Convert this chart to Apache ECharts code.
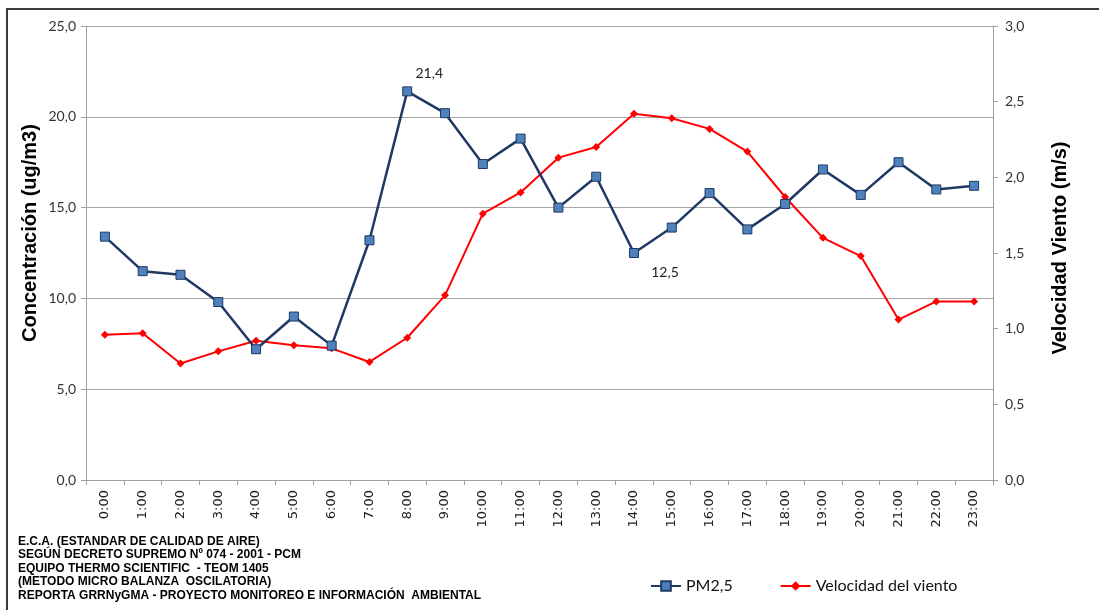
<!DOCTYPE html>
<html>
<head>
<meta charset="utf-8">
<script src="https://cdn.jsdelivr.net/npm/echarts@6/dist/echarts.min.js"></script>
<style>
html,body{margin:0;padding:0;background:#fff;}
#c{width:1099px;height:610px;}
</style>
</head>
<body>
<div id="c"></div>
<script>
const hours = ['0:00','1:00','2:00','3:00','4:00','5:00','6:00','7:00','8:00','9:00','10:00','11:00','12:00','13:00','14:00','15:00','16:00','17:00','18:00','19:00','20:00','21:00','22:00','23:00'];
const pm25 = [13.4,11.5,11.3,9.8,7.2,9.0,7.4,13.2,21.4,20.2,17.4,18.8,15.0,16.7,12.5,13.9,15.8,13.8,15.2,17.1,15.7,17.5,16.0,16.2];
const viento = [0.96,0.97,0.77,0.85,0.92,0.89,0.87,0.78,0.94,1.22,1.76,1.90,2.13,2.20,2.42,2.39,2.32,2.17,1.87,1.60,1.48,1.06,1.18,1.18];
const labeledPoints = [8, 14];
const leftTicks = {min:0, max:25, interval:5};
const rightTicks = {min:0, max:3, interval:0.5};
const leftTitle = 'Concentración (ug/m3)';
const rightTitle = 'Velocidad Viento (m/s)';
const notes = [
  'E.C.A. (ESTANDAR DE CALIDAD DE AIRE)',
  'SEGÚN DECRETO SUPREMO Nº 074 - 2001 - PCM',
  'EQUIPO THERMO SCIENTIFIC  - TEOM 1405',
  '(METODO MICRO BALANZA  OSCILATORIA)',
  'REPORTA GRRNyGMA - PROYECTO MONITOREO E INFORMACIÓN  AMBIENTAL'
];

const fmt1 = v => v.toFixed(1).replace('.', ',');
const labelFont = 'Lato, "Open Sans", sans-serif';
const titleFont = 'bold 20px "Liberation Sans", Arial, sans-serif';

const pmData = pm25.map((v, i) => {
  if (labeledPoints.indexOf(i) < 0) return v;
  return {
    value: v,
    label: {
      show: true,
      formatter: p => fmt1(p.value),
      position: i === 8 ? 'top' : 'bottom',
      offset: i === 8 ? [22, -1] : [31, 2],
      fontFamily: labelFont, fontSize: 14, color: '#222'
    }
  };
});

const chart = echarts.init(document.getElementById('c'), null, {renderer:'canvas'});
const graphics = [
  {type:'polyline', shape:{points:[[7,610],[7,9],[1099,9]]}, style:{stroke:'#3a3a3a', lineWidth:2, fill:null}, silent:true},
  {type:'text', x:30, y:233, rotation:Math.PI/2, style:{text:leftTitle, font:titleFont, fill:'#000', align:'center', verticalAlign:'middle'}},
  {type:'text', x:1060, y:248, rotation:Math.PI/2, style:{text:rightTitle, font:titleFont, fill:'#000', align:'center', verticalAlign:'middle'}}
];
const lineYs = [543,556,569.5,583,597];
notes.forEach((t, i) => {
  graphics.push({type:'text', left:18, top:lineYs[i]-7, style:{text:t, font:'bold 12px "Liberation Sans", Arial, sans-serif', fill:'#000'}});
});

chart.setOption({
  animation:false,
  backgroundColor:'#fff',
  grid:{left:86, right:106, top:26, bottom:130, containLabel:false},
  legend:{
    left:645, top:573, itemWidth:30, itemHeight:12, itemGap:47,
    textStyle:{fontFamily:labelFont, fontSize:16, color:'#111'},
    data:['PM2,5','Velocidad del viento']
  },
  xAxis:{
    type:'category', data:hours, boundaryGap:true,
    axisLine:{lineStyle:{color:'#a0a0a0', width:1}},
    axisTick:{show:true, length:5, lineStyle:{color:'#a0a0a0'}},
    axisLabel:{rotate:90, fontFamily:'"DejaVu Sans", sans-serif', fontSize:13, color:'#222', margin:10, interval:0}
  },
  yAxis:[
    {
      type:'value', min:leftTicks.min, max:leftTicks.max, interval:leftTicks.interval,
      axisLine:{show:true, lineStyle:{color:'#a0a0a0'}},
      axisTick:{show:true, length:5, lineStyle:{color:'#a0a0a0'}},
      axisLabel:{formatter:fmt1, fontFamily:labelFont, fontSize:14, color:'#333', margin:10},
      splitLine:{show:true, lineStyle:{color:'#a6a6a6', width:1}}
    },
    {
      type:'value', min:rightTicks.min, max:rightTicks.max, interval:rightTicks.interval, position:'right',
      axisLine:{show:true, lineStyle:{color:'#a0a0a0'}},
      axisTick:{show:true, length:5, lineStyle:{color:'#a0a0a0'}},
      axisLabel:{formatter:fmt1, fontFamily:labelFont, fontSize:14, color:'#333', margin:12},
      splitLine:{show:false}
    }
  ],
  series:[
    {
      name:'PM2,5', type:'line', yAxisIndex:0, data:pmData,
      symbol:'rect', symbolSize:9, showAllSymbol:true,
      lineStyle:{color:'#1f3864', width:2.5},
      itemStyle:{color:'#4f81bd', borderColor:'#1f3864', borderWidth:1},
      z:3
    },
    {
      name:'Velocidad del viento', type:'line', yAxisIndex:1, data:viento,
      symbol:'diamond', symbolSize:8, showAllSymbol:true,
      lineStyle:{color:'#ff0000', width:2},
      itemStyle:{color:'#ff0000', borderColor:'#ff0000', borderWidth:0},
      z:2
    }
  ],
  graphic:graphics
});
</script>
</body>
</html>
